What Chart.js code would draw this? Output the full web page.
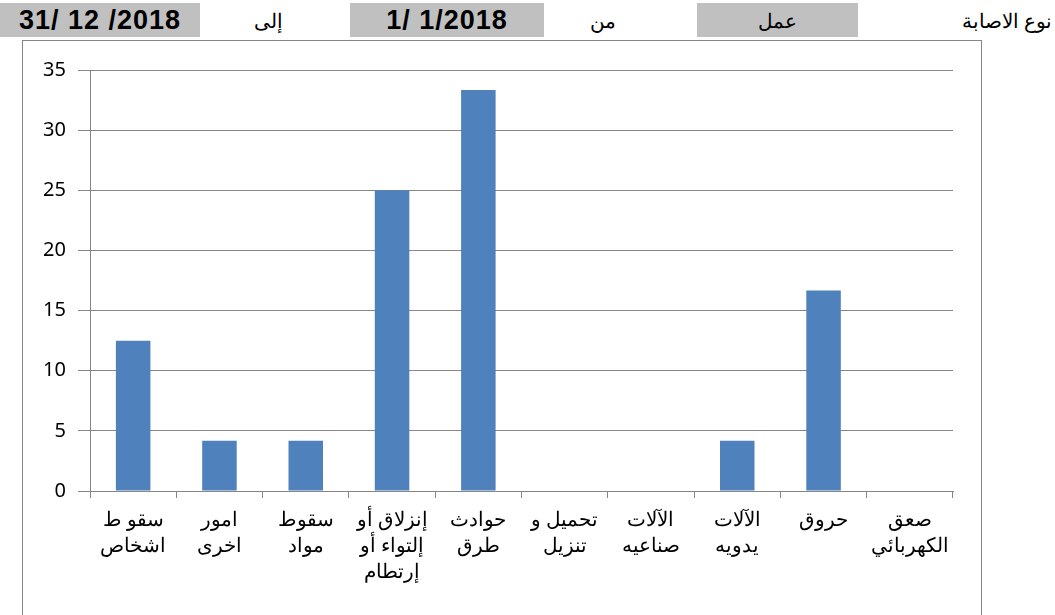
<!DOCTYPE html>
<html>
<head>
    <meta charset="utf-8">
    <title>نوع الاصابة</title>
    <style>
        body { margin: 0; background: #fff; width: 1055px; height: 615px; overflow: hidden; position: relative; }
        .box { position: absolute; top: 3px; height: 34px; background: #c0c0c0; font: bold 27px 'Liberation Sans', Arial, sans-serif; letter-spacing: 1px; text-align: center; line-height: 34px; color: #000; }
        .lbl { position: absolute; top: 9px; height: 30px; line-height: 30px; font: 20px 'Liberation Serif', 'Times New Roman', serif; color: #000; }
        #chartBox { position: absolute; left: 22px; top: 40px; width: 958px; height: 600px; border: 1px solid #868686; }
        #chartWrap { position: absolute; left: 0; top: 0; width: 958px; height: 574px; }
    </style>
</head>
<body>
    <div class="box" style="left:0; width:200px;" dir="ltr">31/ 12 /2018</div>
    <div class="lbl" style="left:240px; width:56px; text-align:center;" dir="rtl">إلى</div>
    <div class="box" style="left:350px; width:194px;" dir="ltr">1/ 1/2018</div>
    <div class="lbl" style="left:575px; width:56px; text-align:center;" dir="rtl">من</div>
    <div class="box" style="left:697px; width:161px;"></div>
    <div class="lbl" style="left:697px; width:161px; text-align:center;" dir="rtl">عمل</div>
    <div class="lbl" style="left:895px; width:157px; text-align:right;" dir="rtl">نوع الاصابة</div>

    <div id="chartBox">
        <div id="chartWrap"><canvas id="injuryChart"></canvas></div>
    </div>

    <script src="https://cdn.jsdelivr.net/npm/chart.js"></script>
    <script>
        // categories, left to right as in the picture
        var categories = [
            ['سقو ط', 'اشخاص'],
            ['امور', 'اخرى'],
            ['سقوط', 'مواد'],
            ['إنزلاق أو', 'إلتواء أو', 'إرتطام'],
            ['حوادث', 'طرق'],
            ['تحميل و', 'تنزيل'],
            ['الآلات', 'صناعيه'],
            ['الآلات', 'يدويه'],
            ['حروق'],
            ['صعق', 'الكهربائي']
        ];
        var percentValues = [12.5, 4.17, 4.17, 25, 33.33, 0, 0, 4.17, 16.67, 0];
        var yTicks = [0, 5, 10, 15, 20, 25, 30, 35];

        var gridGray = '#868686';

        var ctx = document.getElementById('injuryChart').getContext('2d');
        var injuryChart = new Chart(ctx, {
            type: 'bar',
            data: {
                labels: categories,
                datasets: [{
                    data: percentValues,
                    backgroundColor: '#4f81bd',
                    borderWidth: 0,
                    categoryPercentage: 1,
                    barPercentage: 0.4
                }]
            },
            options: {
                responsive: true,
                maintainAspectRatio: false,
                animation: false,
                layout: { padding: { top: 29, right: 28, left: 0, bottom: 0 } },
                plugins: {
                    legend: { display: false },
                    tooltip: { enabled: false }
                },
                scales: {
                    x: {
                        afterFit: function (scale) { scale.height = 124; },
                        border: { color: gridGray, width: 1 },
                        grid: {
                            offset: true,
                            drawOnChartArea: false,
                            color: gridGray,
                            tickLength: 7
                        },
                        ticks: {
                            color: '#000',
                            padding: 10,
                            maxRotation: 0,
                            autoSkip: false,
                            font: { family: "'Liberation Serif', 'Times New Roman', serif", size: 20, lineHeight: 1.3 }
                        }
                    },
                    y: {
                        min: 0,
                        max: 35,
                        afterFit: function (scale) { scale.width = 67; },
                        afterBuildTicks: function (scale) {
                            scale.ticks = yTicks.map(function (v) { return { value: v }; });
                        },
                        border: { color: gridGray, width: 1 },
                        grid: { color: gridGray, lineWidth: 1, tickLength: 12 },
                        ticks: {
                            color: '#000',
                            padding: 12,
                            font: { family: "'Noto Sans', 'Liberation Sans', sans-serif", size: 20 }
                        }
                    }
                }
            }
        });
    </script>
</body>
</html>
